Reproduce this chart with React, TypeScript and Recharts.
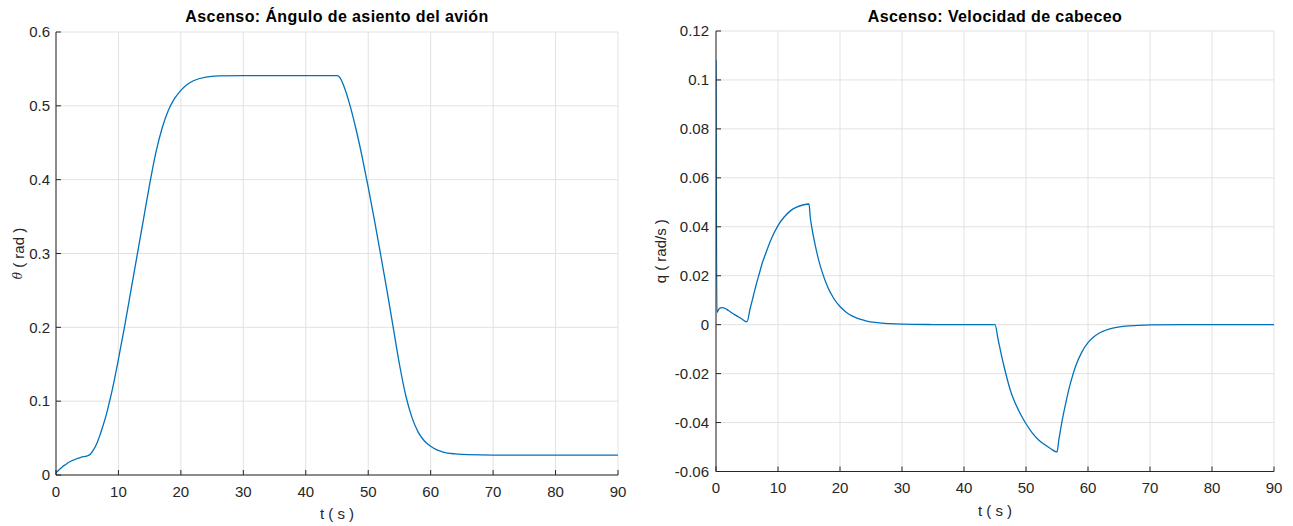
import React from "react";
import { LineChart, Line, XAxis, YAxis, CartesianGrid } from "recharts";

const FONT = '"Liberation Sans", Arial, Helvetica, sans-serif';
const INK = "#262626";
const GRID = "#e2e2e2";
const BLUE = "#0072BD";

// pitch attitude theta (rad) against time (s)
const thetaTime = [
  0, 0.5, 1, 1.5, 2, 3, 4, 5, 5.5, 6, 6.5, 7, 7.5, 8, 8.5, 9, 10, 11, 12, 13,
  14, 15, 16, 17, 18, 19, 20, 21, 22, 24, 26, 30, 35, 40, 45, 45.5, 46, 46.5,
  47, 48, 49, 50, 51, 52, 53, 54, 55, 56, 57, 58, 59, 60, 61, 62, 64, 66, 70,
  80, 90,
];
const thetaValues = [
  0.003, 0.007, 0.011, 0.014, 0.017, 0.021, 0.024, 0.026, 0.028, 0.034, 0.042,
  0.053, 0.066, 0.08, 0.097, 0.115, 0.157, 0.202, 0.25, 0.298, 0.346, 0.394,
  0.437, 0.47, 0.494, 0.51, 0.521, 0.529, 0.534, 0.539, 0.5405, 0.541, 0.541,
  0.541, 0.541, 0.538, 0.529, 0.517, 0.503, 0.47, 0.432, 0.39, 0.345, 0.298,
  0.25, 0.2, 0.15, 0.108, 0.078, 0.058, 0.046, 0.039, 0.034, 0.031, 0.0285,
  0.0275, 0.027, 0.027, 0.027,
];

// pitch rate q (rad/s) against time (s)
const qTime = [
  0, 0.15, 0.5, 1, 1.5, 2, 3, 4, 5, 5.5, 6, 6.5, 7, 7.5, 8, 9, 10, 11, 12, 13,
  14, 15, 15.2, 15.5, 16, 16.5, 17, 18, 19, 20, 21, 22, 24, 26, 28, 30, 35, 40,
  45, 45.5, 46, 46.5, 47, 47.5, 48, 49, 50, 51, 52, 53, 54, 55, 55.3, 55.6, 56,
  56.5, 57, 57.5, 58, 59, 60, 61, 62, 64, 66, 68, 70, 75, 80, 90,
];
const qValues = [
  0.108, 0.005, 0.0065, 0.007, 0.0066, 0.0058, 0.0041, 0.0026, 0.0012, 0.0065,
  0.0115, 0.0165, 0.021, 0.0255, 0.029, 0.0355, 0.0405, 0.044, 0.0465, 0.048,
  0.0489, 0.0493, 0.044, 0.039, 0.0325, 0.027, 0.0225, 0.0155, 0.0107, 0.0074,
  0.0051, 0.0035, 0.0017, 0.0008, 0.0004, 0.0002, 0.00005, 0, 0, -0.006, -0.012,
  -0.0175, -0.0225, -0.027, -0.0305, -0.036, -0.0405, -0.0442, -0.047, -0.049,
  -0.0507, -0.052, -0.047, -0.0425, -0.037, -0.031, -0.0255, -0.021, -0.017,
  -0.0112, -0.0073, -0.0048, -0.0032, -0.0014, -0.0006, -0.0003, -0.0001, 0, 0,
  0,
];

const timeTicks = [0, 10, 20, 30, 40, 50, 60, 70, 80, 90];
const thetaTicks = [0, 0.1, 0.2, 0.3, 0.4, 0.5, 0.6];
const qTicks = [-0.06, -0.04, -0.02, 0, 0.02, 0.04, 0.06, 0.08, 0.1, 0.12];

const thetaData = thetaTime.map((t, i) => ({ t, v: thetaValues[i] }));
const qData = qTime.map((t, i) => ({ t, v: qValues[i] }));

const tickStyle = { fill: INK, fontSize: 15, fontFamily: FONT };

function YLabel({ viewBox, gap, caption }: any) {
  const x = viewBox.x + gap;
  const y = viewBox.y + viewBox.height / 2;
  return (
    <text
      x={x}
      y={y}
      transform={`rotate(-90 ${x} ${y})`}
      textAnchor="middle"
      dominantBaseline="central"
      fill={INK}
      fontSize={15}
      fontFamily={FONT}
    >
      {caption}
    </text>
  );
}

function XLabel({ viewBox, caption }: any) {
  return (
    <text
      x={viewBox.x + viewBox.width / 2}
      y={viewBox.y + 44}
      textAnchor="middle"
      fill={INK}
      fontSize={15}
      fontFamily={FONT}
    >
      {caption}
    </text>
  );
}

function Title({ left, width, text }: { left: number; width: number; text: string }) {
  return (
    <div
      style={{
        position: "absolute",
        left,
        top: 8,
        width,
        textAlign: "center",
        fontFamily: FONT,
        fontWeight: "bold",
        fontSize: 16,
        letterSpacing: 0.4,
        lineHeight: "18px",
        color: "#000",
        whiteSpace: "nowrap",
      }}
    >
      {text}
    </div>
  );
}

interface PanelProps {
  data: { t: number; v: number }[];
  width: number;
  margin: { top: number; right: number; bottom: number; left: number };
  yWidth: number;
  yDomain: [number, number];
  yTicks: number[];
  yTickMargin: number;
  yLabel: React.ReactNode;
  yLabelGap: number;
}

function Panel({ data, width, margin, yWidth, yDomain, yTicks, yTickMargin, yLabel, yLabelGap }: PanelProps) {
  return (
    <LineChart width={width} height={526} data={data} margin={margin}>
      <CartesianGrid stroke={GRID} strokeWidth={1} />
      <XAxis
        xAxisId={0}
        type="number"
        dataKey="t"
        domain={[0, 90]}
        ticks={timeTicks}
        interval={0}
        allowDataOverflow
        height={40}
        stroke={INK}
        tick={tickStyle}
        tickSize={-5}
        tickMargin={16}
        label={<XLabel caption="t ( s )" />}
      />
      <XAxis
        xAxisId="top"
        orientation="top"
        type="number"
        dataKey="t"
        domain={[0, 90]}
        ticks={timeTicks}
        interval={0}
        allowDataOverflow
        height={0}
        stroke={INK}
        tickSize={-5}
        tickFormatter={() => ""}
      />
      <YAxis
        yAxisId={0}
        type="number"
        domain={yDomain}
        ticks={yTicks}
        interval={0}
        allowDataOverflow
        width={yWidth}
        stroke={INK}
        tick={tickStyle}
        tickSize={-5}
        tickMargin={yTickMargin}
        tickFormatter={(v: number) => String(v)}
        label={<YLabel caption={yLabel} gap={yLabelGap} />}
      />
      <YAxis
        yAxisId="right"
        orientation="right"
        type="number"
        domain={yDomain}
        ticks={yTicks}
        interval={0}
        allowDataOverflow
        width={0}
        stroke={INK}
        tickSize={-5}
        tickFormatter={() => ""}
      />
      <Line
        xAxisId={0}
        yAxisId={0}
        type="monotone"
        dataKey="v"
        stroke={BLUE}
        strokeWidth={1.3}
        dot={false}
        activeDot={false}
        isAnimationActive={false}
      />
    </LineChart>
  );
}

export default function App() {
  return (
    <div
      style={{
        position: "absolute",
        left: 0,
        top: 0,
        width: 1293,
        height: 526,
        background: "#fff",
        overflow: "hidden",
      }}
    >
      <div style={{ position: "absolute", left: 0, top: 0 }}>
        <Panel
          data={thetaData}
          width={640}
          margin={{ top: 32, right: 22, bottom: 11, left: 0 }}
          yWidth={56}
          yDomain={[0, 0.6]}
          yTicks={thetaTicks}
          yTickMargin={11}
          yLabel={
            <>
              <tspan fontStyle="italic" fontFamily='"DejaVu Serif", serif' fontSize={12}>
                θ
              </tspan>
              <tspan> ( rad )</tspan>
            </>
          }
          yLabelGap={18}
        />
      </div>
      <div style={{ position: "absolute", left: 640, top: 0 }}>
        <Panel
          data={qData}
          width={653}
          margin={{ top: 31, right: 19, bottom: 14.5, left: 0 }}
          yWidth={76}
          yDomain={[-0.06, 0.12]}
          yTicks={qTicks}
          yTickMargin={12}
          yLabel="q ( rad/s )"
          yLabelGap={20}
        />
      </div>
      <Title left={56} width={562} text="Ascenso: Ángulo de asiento del avión" />
      <Title left={716} width={558} text="Ascenso: Velocidad de cabeceo" />
    </div>
  );
}
